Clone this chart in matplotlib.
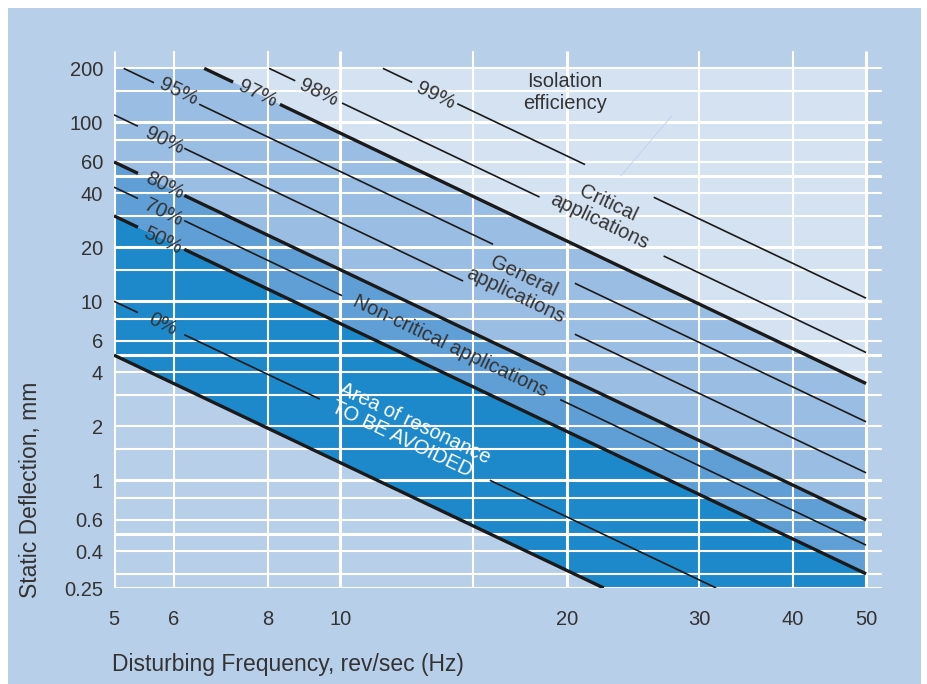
import matplotlib
matplotlib.use("Agg")
import matplotlib.pyplot as plt
import numpy as np
from matplotlib.patches import Rectangle

plt.rcParams['font.family'] = ['Liberation Sans', 'DejaVu Sans']

# gridlines (Hz / mm)
x_grid = [5, 6, 8, 10, 15, 20, 30, 40, 50]
x_grid_heavy = [5, 10, 20, 50]
y_grid = [200, 150, 100, 80, 60, 50, 40, 30, 20, 15, 10, 8, 6, 5, 4, 3, 2, 1.5, 1, 0.8, 0.6, 0.5, 0.4, 0.3, 0.25]
y_grid_heavy = [100, 50, 20, 10, 5, 1, 0.5]
x_ticks = [5, 6, 8, 10, 20, 30, 40, 50]
y_ticks = [200, 100, 60, 40, 20, 10, 6, 4, 2, 1, 0.6, 0.4, 0.25]
y_tick_labels = ['200', '100', '60', '40', '20', '10', '6', '4', '2', '1', '0.6', '0.4', '0.25']

# boundary lines, full extent (f, d)
line_base = [(5, 5.0), (22.4, 0.25)]
line_50 = [(5, 30.0), (50, 0.30)]
line_80 = [(5, 60.0), (50, 0.60)]
line_97 = [(6.59, 200.0), (50, 3.47)]

# visible pieces of each efficiency line, ((f0, d0), (f1, d1))
seg_0 = [((5, 10.0), (5.38, 8.64)), ((6.2, 6.5), (9.39, 2.84)), ((15.8, 1.0), (31.6, 0.25))]
seg_50 = [((5, 30.0), (5.38, 25.9)), ((6.2, 19.5), (50, 0.30))]
seg_70 = [((5, 43.4), (5.38, 37.5)), ((6.2, 28.2), (10.05, 10.74)), ((19.6, 2.82), (50, 0.434))]
seg_80 = [((5, 60.0), (5.38, 51.8)), ((6.2, 39.0), (50, 0.60))]
seg_90 = [((5, 110.0), (5.38, 95.0)), ((6.2, 71.5), (14.56, 12.97)), ((20.5, 6.54), (50, 1.10))]
seg_95 = [((5.15, 200.0), (5.65, 166.2)), ((6.49, 126.0), (15.96, 20.8)), ((20.5, 12.6), (50, 2.12))]
seg_97 = [((6.59, 200.0), (7.2, 167.6)), ((8.31, 125.8), (50, 3.47))]
seg_98 = [((8.04, 200.0), (8.71, 170.4)), ((10.05, 128.0), (18.4, 38.2)), ((26.9, 17.9), (50, 5.17))]
seg_99 = [((11.39, 200.0), (12.46, 167.0)), ((14.3, 126.9), (21.15, 58.0)), ((26.1, 38.1), (50, 10.4))]

thin_lines = [seg_0, seg_70, seg_90, seg_95, seg_98, seg_99]
thick_lines = [seg_50, seg_80, seg_97]

pct_labels = ['0%', '50%', '70%', '80%', '90%', '95%', '97%', '98%', '99%']
pct_pos = [(5.81, 7.4), (5.80, 21.8), (5.81, 31.3), (5.84, 44.3), (5.83, 79.0),
           (6.10, 148.5), (7.75, 144.7), (9.37, 146.5), (13.4, 141.0)]

zone_labels = ['Non-critical applications', 'General\napplications', 'Critical\napplications']
zone_pos = [(14.0, 5.58), (17.3, 12.2), (22.4, 31.3)]

c_panel = '#b8cfe9'
c_light = '#d4e2f2'
c_mid1 = '#9abde3'
c_mid2 = '#5f9fd6'
c_dark = '#1d89ca'
c_text = '#333333'

fig = plt.figure(figsize=(9.28, 6.84), dpi=100, facecolor='white')
fig.patches.append(Rectangle((8 / 928, 0), 913 / 928, 676 / 684, transform=fig.transFigure,
                             facecolor=c_panel, edgecolor='none', zorder=-10))
ax = fig.add_axes([114 / 928, 1 - 588 / 684, 768 / 928, 537 / 684])
ax.set_facecolor('none')
ax.set_xscale('log')
ax.set_yscale('log')
ax.set_xlim(5, 52.5)
ax.set_ylim(0.25, 250)
for s in ax.spines.values():
    s.set_visible(False)

# shaded zones
x_lo, x_hi = 5, 50
y_lo, y_hi = 0.25, 200
ax.fill([x_lo, x_hi, x_hi, x_lo], [y_lo, y_lo, y_hi, y_hi], color=c_light, lw=0, zorder=1)
ax.fill([line_80[0][0], line_80[1][0], line_97[1][0], line_97[0][0], x_lo],
        [line_80[0][1], line_80[1][1], line_97[1][1], line_97[0][1], y_hi],
        color=c_mid1, lw=0, zorder=1)
ax.fill([line_50[0][0], line_50[1][0], line_80[1][0], line_80[0][0]],
        [line_50[0][1], line_50[1][1], line_80[1][1], line_80[0][1]],
        color=c_mid2, lw=0, zorder=1)
ax.fill([line_base[0][0], line_base[1][0], x_hi, line_50[1][0], line_50[0][0]],
        [line_base[0][1], line_base[1][1], y_lo, line_50[1][1], line_50[0][1]],
        color=c_dark, lw=0, zorder=1)
ax.fill([x_lo, line_base[0][0], line_base[1][0]], [y_lo, line_base[0][1], line_base[1][1]],
        color=c_panel, lw=0, zorder=1)

# white grid
for v in y_grid:
    ax.plot([5, 52.5], [v, v], color='white', lw=2.2 if v in y_grid_heavy else 1.5,
            zorder=2, solid_capstyle='butt')
for v in x_grid:
    ax.plot([v, v], [0.25, 250], color='white', lw=2.2 if v in x_grid_heavy else 1.5,
            zorder=2, solid_capstyle='butt')

# efficiency lines
for segs in thin_lines:
    for p0, p1 in segs:
        ax.plot([p0[0], p1[0]], [p0[1], p1[1]], color='#1a1a1a', lw=1.2, zorder=3,
                solid_capstyle='butt')
for segs in thick_lines:
    for p0, p1 in segs:
        ax.plot([p0[0], p1[0]], [p0[1], p1[1]], color='#1a1a1a', lw=2.4, zorder=3,
                solid_capstyle='butt')
ax.plot([line_base[0][0], line_base[1][0]], [line_base[0][1], line_base[1][1]],
        color='#1a1a1a', lw=2.4, zorder=3, solid_capstyle='butt')

# faint leader line
ax.plot([23.6, 27.6], [50.2, 108.8], color='#bcd3ee', lw=0.6, zorder=2.5)

# angle of the lines on screen
fig.canvas.draw()
p = ax.transData.transform([line_50[0], line_50[1]])
ang = np.degrees(np.arctan2(p[1][1] - p[0][1], p[1][0] - p[0][0]))

for lab, (fx, dy) in zip(pct_labels, pct_pos):
    ax.text(fx, dy, lab, rotation=ang, rotation_mode='anchor', ha='center', va='center',
            fontsize=14.5, color=c_text, zorder=4)
for lab, (fx, dy) in zip(zone_labels, zone_pos):
    ax.text(fx, dy, lab, rotation=ang, rotation_mode='anchor', ha='center', va='center',
            multialignment='center', fontsize=14.5, color=c_text, zorder=4, linespacing=1.1)
ax.text(12.4, 1.85, 'Area of resonance\nTO BE AVOIDED', rotation=ang, rotation_mode='anchor',
        ha='center', va='center', multialignment='left', fontsize=14.5, color='white',
        zorder=4, linespacing=1.05)
ax.text(19.9, 146.5, 'Isolation\nefficiency', ha='center', va='center', fontsize=14.5,
        color=c_text, zorder=4, linespacing=1.15)

ax.set_xticks(x_ticks)
ax.set_xticklabels([str(v) for v in x_ticks])
ax.set_yticks(y_ticks)
ax.set_yticklabels(y_tick_labels)
ax.minorticks_off()
ax.tick_params(axis='both', length=0, labelsize=14.5, labelcolor=c_text)
ax.tick_params(axis='x', pad=16)
ax.tick_params(axis='y', pad=8)

fig.text(112 / 928, 1 - 664 / 684, 'Disturbing Frequency, rev/sec (Hz)', ha='left', va='center',
         fontsize=16.5, color=c_text)
fig.text(31 / 928, 1 - 490 / 684, 'Static Deflection, mm', rotation=90, ha='center', va='center',
         fontsize=16.5, color=c_text)

fig.savefig('out.png', dpi=100, facecolor='white')
